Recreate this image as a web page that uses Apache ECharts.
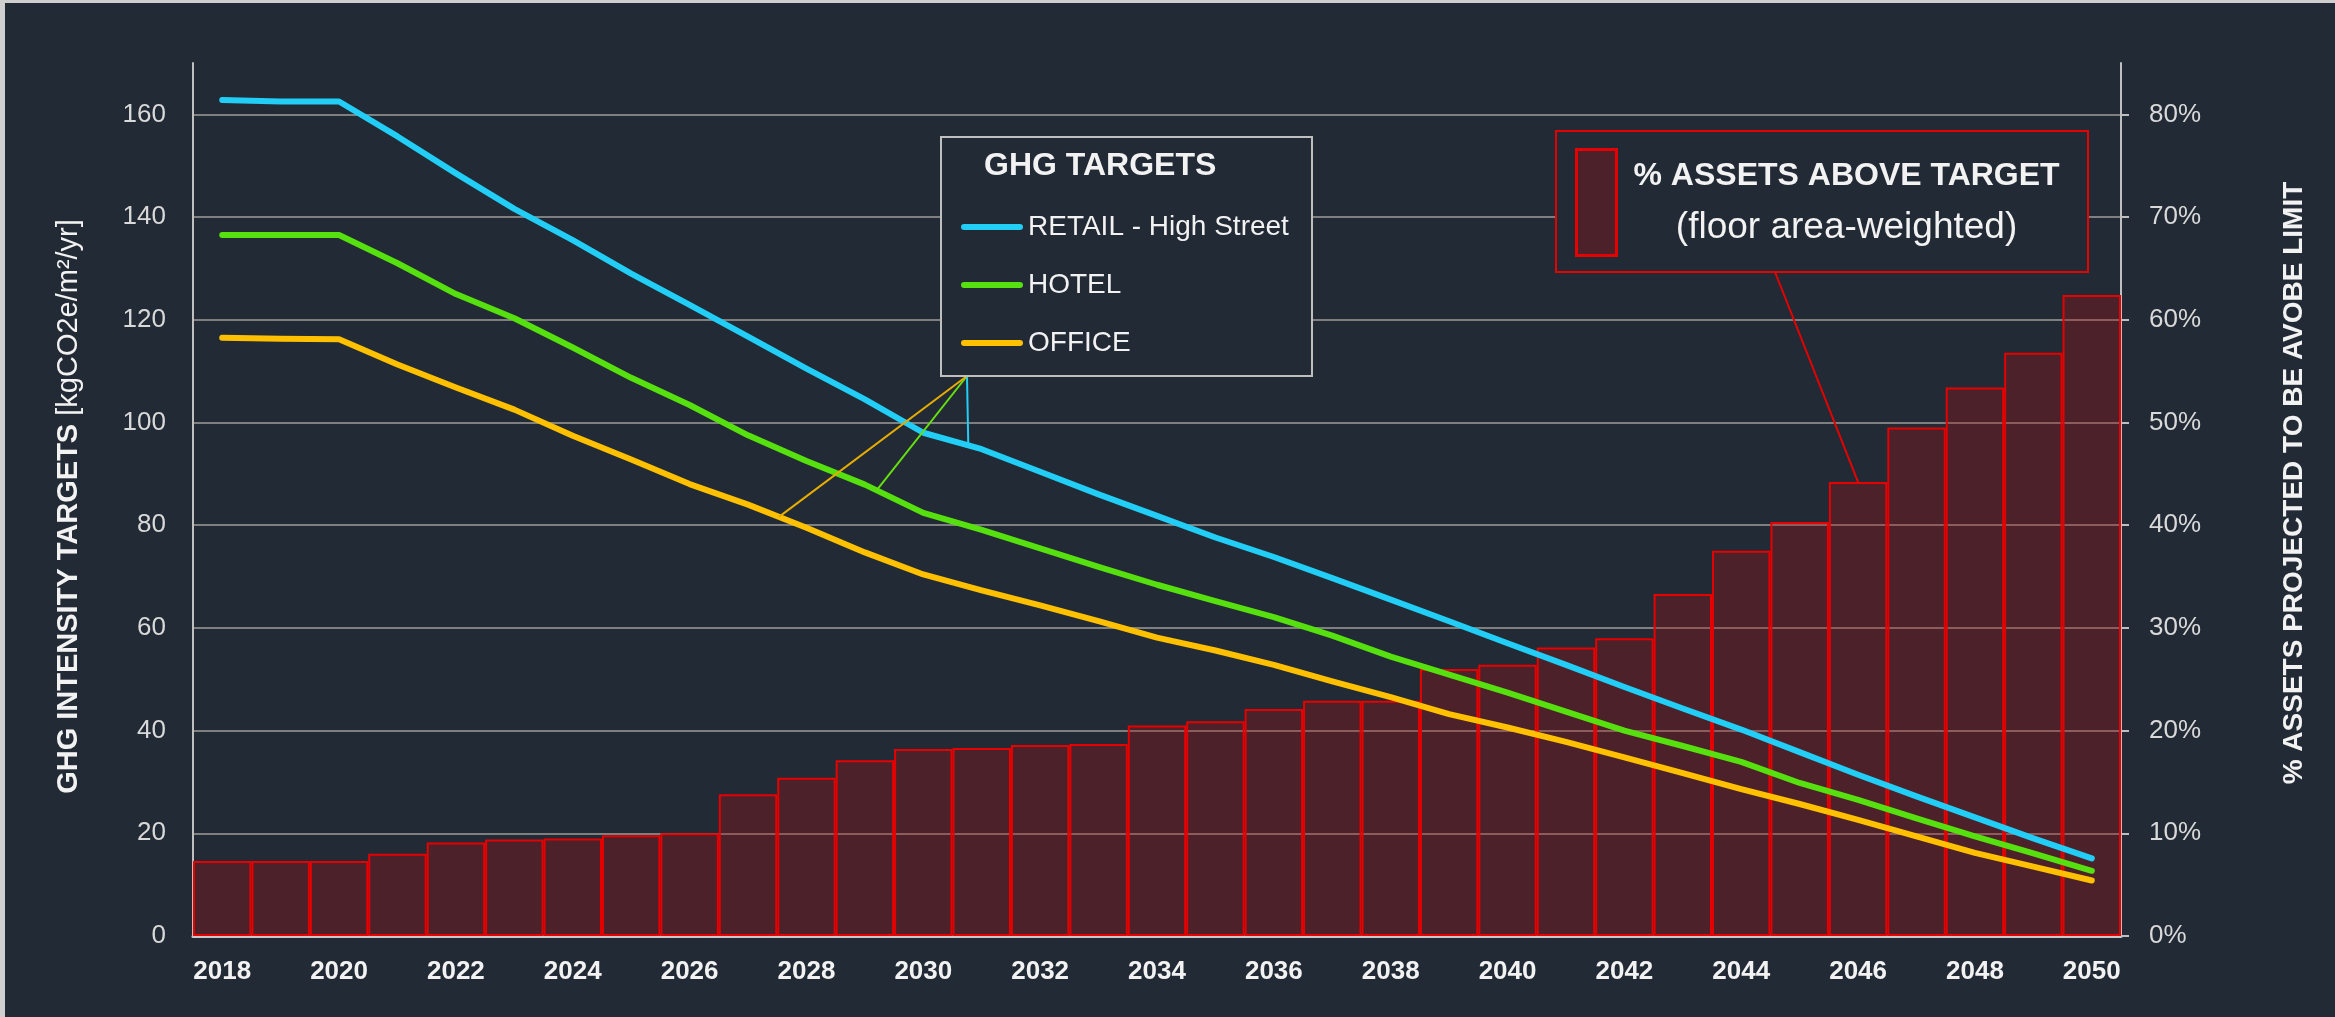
<!DOCTYPE html>
<html>
<head>
<meta charset="utf-8">
<title>GHG intensity targets</title>
<script src="https://cdn.jsdelivr.net/npm/echarts@6.0.0/dist/echarts.min.js"></script>
<style>
  html, body { margin: 0; padding: 0; background: #222a35; }
  #chart { width: 2335px; height: 1017px; }
</style>
</head>
<body>
<div id="chart"></div>
<script>
  // years on the category axis
  var years = ['2018', '2019', '2020', '2021', '2022', '2023', '2024', '2025', '2026', '2027', '2028',
    '2029', '2030', '2031', '2032', '2033', '2034', '2035', '2036', '2037', '2038', '2039',
    '2040', '2041', '2042', '2043', '2044', '2045', '2046', '2047', '2048', '2049', '2050'];

  // GHG intensity targets, kgCO2e/m2/yr (left axis)
  var retail = [162.8, 162.5, 162.5, 155.7, 148.5, 141.6, 135.5, 129.0, 122.9, 116.7, 110.5,
    104.5, 98.0, 94.8, 90.4, 86.0, 81.8, 77.6, 73.8, 69.7, 65.5, 61.3,
    57.0, 52.8, 48.5, 44.3, 40.2, 35.8, 31.4, 27.2, 23.1, 19.0, 15.1];
  var hotel = [136.5, 136.5, 136.5, 131.0, 125.0, 120.3, 114.6, 108.7, 103.4, 97.5, 92.5,
    87.9, 82.4, 79.1, 75.5, 71.9, 68.4, 65.2, 62.1, 58.5, 54.4, 50.9,
    47.4, 43.7, 40.0, 37.0, 33.9, 29.8, 26.5, 22.9, 19.4, 16.1, 12.7];
  var office = [116.5, 116.3, 116.2, 111.3, 106.8, 102.5, 97.4, 92.8, 88.0, 84.0, 79.5,
    74.7, 70.4, 67.3, 64.4, 61.3, 58.1, 55.6, 52.8, 49.6, 46.5, 43.2,
    40.6, 37.8, 34.8, 31.7, 28.6, 25.7, 22.6, 19.4, 16.2, 13.5, 10.8];

  // % assets above target, floor area-weighted (right axis)
  var assetsAbove = [7.3, 7.3, 7.3, 8.0, 9.1, 9.4, 9.5, 9.8, 10.0, 13.8, 15.4,
    17.1, 18.2, 18.3, 18.6, 18.7, 20.5, 20.9, 22.1, 22.9, 22.9, 26.0,
    26.4, 28.1, 29.0, 33.3, 37.5, 40.3, 44.2, 49.5, 53.4, 56.8, 62.4];

  var leftTicks = [0, 20, 40, 60, 80, 100, 120, 140, 160];
  var rightTicks = [0, 10, 20, 30, 40, 50, 60, 70, 80];

  var FONT = '"Liberation Sans", Arial, sans-serif';
  var BG = '#222a35';
  var C_RETAIL = '#22cdf6', C_HOTEL = '#56e010', C_OFFICE = '#ffc000', C_RED = '#e60000';

  var chart = echarts.init(document.getElementById('chart'), null, { renderer: 'canvas' });

  var staticGraphic = [
    // frame edges of the screenshot
    { id: 'frameTop', type: 'rect', shape: { x: 0, y: 0, width: 2335, height: 3 }, style: { fill: '#cfcfcf' }, z: 20 },
    { id: 'frameLeft', type: 'rect', shape: { x: 0, y: 0, width: 5, height: 1017 }, style: { fill: '#cfcfcf' }, z: 20 },
    // GHG TARGETS box
    { id: 'box1', type: 'rect', shape: { x: 941, y: 137, width: 371, height: 239 },
      style: { fill: BG, stroke: '#bfbfbf', lineWidth: 2 }, z: 5 },
    { id: 'box1title', type: 'text', x: 984, y: 166, z: 6,
      style: { text: 'GHG TARGETS', fill: '#f2f2f2', fontSize: 32, fontWeight: 'bold', fontFamily: FONT, verticalAlign: 'middle' } },
    // % assets box
    { id: 'box2', type: 'rect', shape: { x: 1556, y: 131, width: 532, height: 141 },
      style: { fill: BG, stroke: C_RED, lineWidth: 2 }, z: 5 }
  ];

  var option = {
    backgroundColor: BG,
    animation: false,
    grid: { left: 193, right: 214, top: 63, bottom: 81, containLabel: false },
    legend: [
      {
        data: ['RETAIL - High Street', 'HOTEL', 'OFFICE'],
        orient: 'vertical',
        left: 961,
        top: 212,
        padding: 0,
        itemWidth: 62,
        itemHeight: 6,
        itemGap: 28,
        icon: 'path://M3,0 L59,0 A3,3 0 0 1 59,6 L3,6 A3,3 0 0 1 3,0 Z',
        selectedMode: false,
        z: 10,
        textStyle: { color: '#f2f2f2', fontSize: 28, lineHeight: 30, fontFamily: FONT }
      },
      {
        data: ['% ASSETS ABOVE TARGET'],
        left: 1575,
        top: 148,
        padding: 0,
        itemWidth: 40,
        itemHeight: 106,
        icon: 'rect',
        selectedMode: false,
        z: 10,
        itemStyle: { color: '#4c2129', borderColor: C_RED, borderWidth: 3 },
        formatter: '{a|% ASSETS ABOVE TARGET}\n{b|(floor area-weighted)}',
        textStyle: {
          color: '#f2f2f2', fontFamily: FONT,
          rich: {
            a: { color: '#f2f2f2', fontSize: 32, fontWeight: 'bold', lineHeight: 50, align: 'center', padding: [0, 0, 0, 12], fontFamily: FONT },
            b: { color: '#f2f2f2', fontSize: 37, lineHeight: 52, align: 'center', padding: [0, 0, 0, 12], fontFamily: FONT }
          }
        }
      }
    ],
    xAxis: {
      type: 'category',
      data: years,
      boundaryGap: true,
      axisLine: { lineStyle: { color: '#c8c8c8', width: 3 } },
      axisTick: { show: false },
      axisLabel: { interval: 1, color: '#f2f2f2', fontSize: 26, fontWeight: 'bold', fontFamily: FONT, margin: 23 },
      splitLine: { show: false }
    },
    yAxis: [
      {
        type: 'value',
        position: 'left',
        min: 0,
        max: 170,
        interval: 20,
        name: '{b|GHG INTENSITY TARGETS }{r|[kgCO2e/m²/yr]}',
        nameLocation: 'middle',
        nameRotate: 90,
        nameGap: 110,
        nameTextStyle: {
          color: '#f2f2f2', fontFamily: FONT, padding: [0, 14, 0, 0],
          rich: {
            b: { color: '#f2f2f2', fontSize: 29, fontWeight: 'bold', fontFamily: FONT },
            r: { color: '#f2f2f2', fontSize: 29, fontFamily: FONT }
          }
        },
        axisLine: { show: true, lineStyle: { color: '#bfbfbf', width: 2 } },
        axisTick: { show: false },
        axisLabel: { customValues: leftTicks, color: '#d9d9d9', fontSize: 26, fontFamily: FONT, margin: 27 },
        splitLine: { show: true, showMaxLine: false, lineStyle: { color: '#7f7f7f', width: 2 } }
      },
      {
        type: 'value',
        position: 'right',
        min: 0,
        max: 85,
        interval: 10,
        name: '% ASSETS PROJECTED TO BE AVOBE LIMIT',
        nameLocation: 'middle',
        nameRotate: 90,
        nameGap: 159,
        nameTextStyle: { color: '#f2f2f2', fontSize: 28, fontWeight: 'bold', fontFamily: FONT, padding: [0, 0, 0, 33] },
        axisLine: { show: true, lineStyle: { color: '#bfbfbf', width: 2 } },
        axisTick: { show: true, customValues: rightTicks, length: 8, lineStyle: { color: '#bfbfbf', width: 2 } },
        axisLabel: { customValues: rightTicks, formatter: '{value}%', color: '#d9d9d9', fontSize: 26, fontFamily: FONT, margin: 28 },
        splitLine: { show: false }
      }
    ],
    series: [
      {
        name: '% ASSETS ABOVE TARGET',
        type: 'bar',
        yAxisIndex: 1,
        data: assetsAbove,
        barCategoryGap: '0%',
        itemStyle: { color: 'rgba(174,12,13,0.3)', borderColor: C_RED, borderWidth: 2 },
        z: 1
      },
      {
        name: 'RETAIL - High Street',
        type: 'line',
        yAxisIndex: 0,
        data: retail,
        symbol: 'none',
        itemStyle: { color: C_RETAIL },
        lineStyle: { color: C_RETAIL, width: 6, cap: 'round', join: 'round' },
        z: 3
      },
      {
        name: 'HOTEL',
        type: 'line',
        yAxisIndex: 0,
        data: hotel,
        symbol: 'none',
        itemStyle: { color: C_HOTEL },
        lineStyle: { color: C_HOTEL, width: 6, cap: 'round', join: 'round' },
        z: 3
      },
      {
        name: 'OFFICE',
        type: 'line',
        yAxisIndex: 0,
        data: office,
        symbol: 'none',
        itemStyle: { color: C_OFFICE },
        lineStyle: { color: C_OFFICE, width: 6, cap: 'round', join: 'round' },
        z: 3
      }
    ],
    graphic: { elements: staticGraphic }
  };

  chart.setOption(option);

  // point on a line series at a fractional category index
  function pointAt(seriesIndex, values, pos) {
    var i = Math.floor(pos), t = pos - i;
    var a = chart.convertToPixel({ seriesIndex: seriesIndex }, [i, values[i]]);
    var b = chart.convertToPixel({ seriesIndex: seriesIndex }, [i + 1, values[i + 1]]);
    return [a[0] + (b[0] - a[0]) * t, a[1] + (b[1] - a[1]) * t];
  }

  // leader lines from the label boxes to the series
  var apex = [967, 376];
  var leaders = [
    { id: 'leadRetail', p: pointAt(1, retail, 12.77), c: C_RETAIL },
    { id: 'leadHotel', p: pointAt(2, hotel, 11.2), c: '#66e010' },
    { id: 'leadOffice', p: pointAt(3, office, 9.53), c: '#e6ad00' }
  ].map(function (d) {
    return { id: d.id, type: 'line', z: 4,
      shape: { x1: apex[0], y1: apex[1], x2: d.p[0], y2: d.p[1] },
      style: { stroke: d.c, lineWidth: 2 } };
  });
  var barTop = chart.convertToPixel({ seriesIndex: 0 }, [28, assetsAbove[28]]);
  leaders.push({ id: 'leadBars', type: 'line', z: 4,
    shape: { x1: 1775, y1: 272, x2: barTop[0], y2: barTop[1] },
    style: { stroke: C_RED, lineWidth: 2 } });

  chart.setOption({ graphic: { elements: staticGraphic.concat(leaders) } });
</script>
</body>
</html>
